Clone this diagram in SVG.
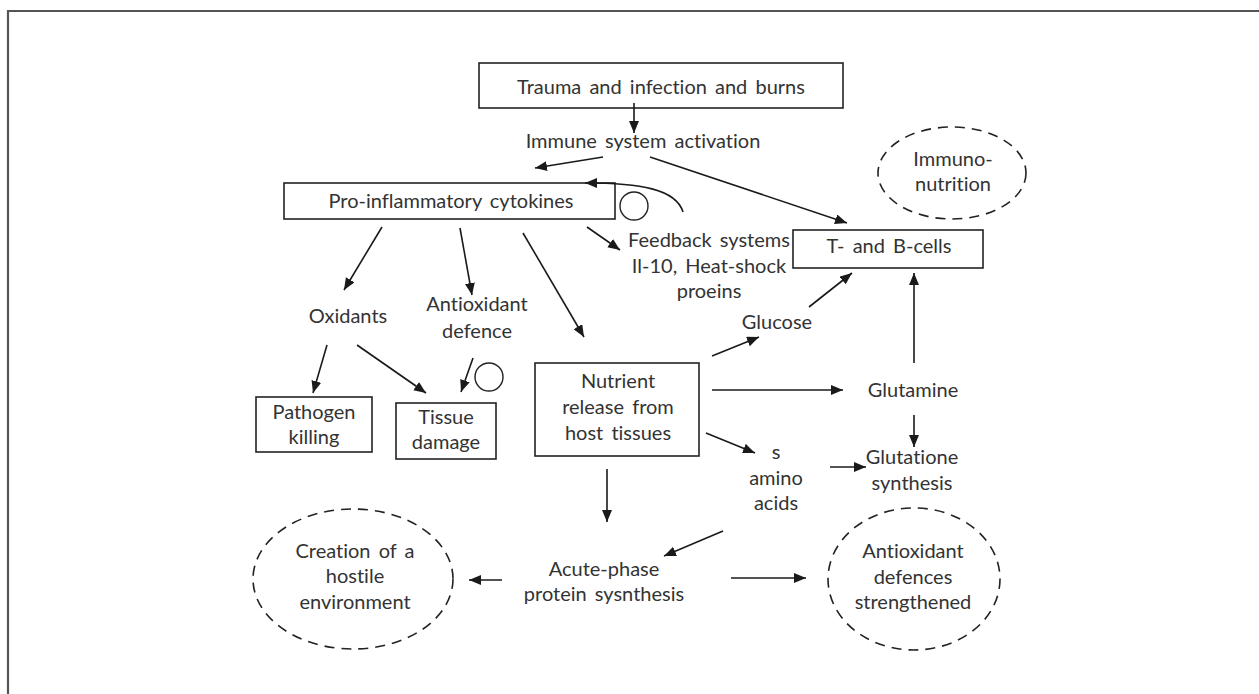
<svg xmlns="http://www.w3.org/2000/svg" width="1259" height="694" viewBox="0 0 1259 694">
<defs>
<marker id="ah" markerUnits="userSpaceOnUse" markerWidth="13" markerHeight="11" refX="12" refY="5" orient="auto">
<path d="M0,0 L12,5 L0,10 z" fill="#1a1a1a"/>
</marker>
<style>
text{font-family:Lato,"Noto Sans","Liberation Sans",sans-serif;font-size:20px;fill:#333;text-anchor:middle;word-spacing:3px;font-variant-ligatures:none;font-feature-settings:"liga" 0,"dlig" 0}
.box{fill:#fff;stroke:#222;stroke-width:1.6}
.dash{fill:none;stroke:#222;stroke-width:1.6;stroke-dasharray:10 7}
.ring{fill:none;stroke:#222;stroke-width:1.4}
.c line,.c path{stroke:#1a1a1a;stroke-width:1.6;fill:none;marker-end:url(#ah)}
</style>
</defs>
<rect width="1259" height="694" fill="#fff"/>
<path d="M8,694 L8,11 L1259,11" fill="none" stroke="#555" stroke-width="2.2"/>

<g id="trauma"><rect class="box" x="479" y="63" width="364" height="45"/><text x="661" y="94">Trauma and infection and burns</text></g>
<g id="immune"><text x="643" y="148">Immune system activation</text></g>
<g id="proinflam"><rect class="box" x="284" y="183" width="331" height="36"/><text x="451" y="208">Pro-inflammatory cytokines</text></g>
<g id="ring1"><circle class="ring" cx="634" cy="206" r="14"/></g>
<g id="feedback"><text x="709" y="247">Feedback systems</text><text x="709" y="273">Il-10, Heat-shock</text><text x="709" y="298">proeins</text></g>
<g id="immunonutrition"><ellipse class="dash" cx="952" cy="173" rx="74" ry="46"/><text x="953" y="166">Immuno-</text><text x="953" y="191">nutrition</text></g>
<g id="tbcells"><rect class="box" x="793" y="230" width="190" height="38"/><text x="889" y="253">T- and B-cells</text></g>
<g id="oxidants"><text x="348" y="323">Oxidants</text></g>
<g id="antioxdef"><text x="477" y="311">Antioxidant</text><text x="477" y="338">defence</text></g>
<g id="ring2"><circle class="ring" cx="489" cy="377" r="14"/></g>
<g id="pathogen"><rect class="box" x="256" y="397" width="116" height="55"/><text x="314" y="419">Pathogen</text><text x="314" y="444">killing</text></g>
<g id="tissue"><rect class="box" x="396" y="403" width="100" height="56"/><text x="446" y="424">Tissue</text><text x="446" y="449">damage</text></g>
<g id="nutrient"><rect class="box" x="535" y="363" width="164" height="93"/><text x="618" y="388">Nutrient</text><text x="618" y="414">release from</text><text x="618" y="440">host tissues</text></g>
<g id="glucose"><text x="777" y="329">Glucose</text></g>
<g id="glutamine"><text x="913" y="397">Glutamine</text></g>
<g id="glutatione"><text x="912" y="464">Glutatione</text><text x="912" y="490">synthesis</text></g>
<g id="aminoacids"><text x="776" y="459">s</text><text x="776" y="485">amino</text><text x="776" y="510">acids</text></g>
<g id="acutephase"><text x="604" y="576">Acute-phase</text><text x="604" y="601">protein sysnthesis</text></g>
<g id="hostile"><ellipse class="dash" cx="353" cy="579" rx="100" ry="70"/><text x="355" y="558">Creation of a</text><text x="355" y="583">hostile</text><text x="355" y="609">environment</text></g>
<g id="antioxstrength"><ellipse class="dash" cx="914" cy="579" rx="86" ry="71"/><text x="913" y="558">Antioxidant</text><text x="913" y="584">defences</text><text x="913" y="609">strengthened</text></g>

<g id="connectors" class="c">
<line x1="634" y1="103" x2="634" y2="133"/>
<line x1="603" y1="157" x2="535" y2="168"/>
<line x1="650" y1="157" x2="847" y2="223"/>
<path d="M683,212 C676,189 640,183 585,183"/>
<line x1="587" y1="227" x2="620" y2="250"/>
<line x1="382" y1="227" x2="344" y2="290"/>
<line x1="460" y1="228" x2="472" y2="295"/>
<line x1="523" y1="233" x2="584" y2="337"/>
<line x1="327" y1="345" x2="313" y2="393"/>
<line x1="357" y1="345" x2="426" y2="393"/>
<line x1="473" y1="358" x2="461" y2="392"/>
<line x1="712" y1="356" x2="759" y2="337"/>
<line x1="809" y1="307" x2="852" y2="273"/>
<line x1="914" y1="363" x2="914" y2="273"/>
<line x1="712" y1="390" x2="843" y2="390"/>
<line x1="914" y1="415" x2="914" y2="447"/>
<line x1="706" y1="433" x2="755" y2="453"/>
<line x1="830" y1="467" x2="866" y2="467"/>
<line x1="607" y1="469" x2="607" y2="522"/>
<line x1="723" y1="531" x2="664" y2="556"/>
<line x1="502" y1="580" x2="469" y2="580"/>
<line x1="731" y1="578" x2="806" y2="578"/>
</g>
</svg>
